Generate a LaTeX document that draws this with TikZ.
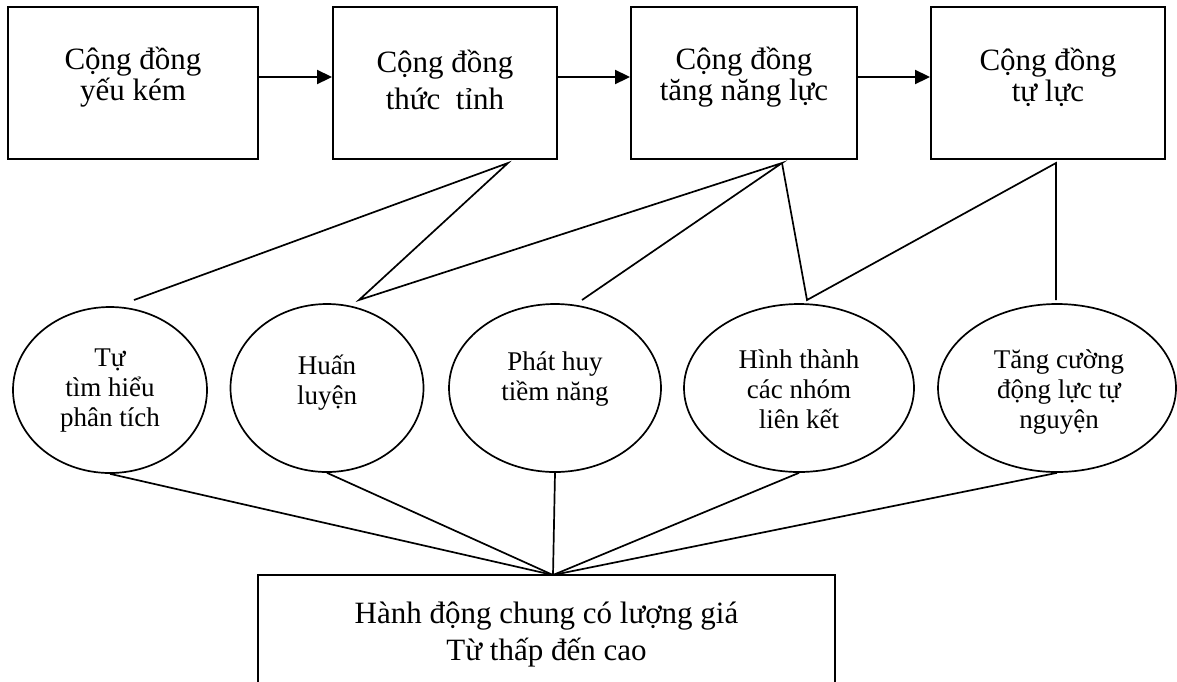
\documentclass[tikz,border=0pt]{standalone}
\usepackage{fontspec}
\setmainfont{Liberation Serif}
\usetikzlibrary{shapes.geometric,arrows.meta}

\tikzset{
  stage/.style={draw, line width=1.9pt, minimum height=152, inner sep=0},
  stagetxt/.style={align=center, inner sep=0, font=\fontsize{31}{31}\selectfont},
  bubble/.style={draw, ellipse, line width=1.7pt, minimum height=168, inner sep=0},
  bubbletxt/.style={align=center, inner sep=0, font=\fontsize{27}{30}\selectfont},
  flow/.style={line width=1.9pt, -{Triangle[length=15pt,width=14pt]}},
  link/.style={line width=1.7pt},
}

\begin{document}
\begin{tikzpicture}[x=1pt, y=-1pt]
	\useasboundingbox (0,0) rectangle (1177,681);
	% the four stages
	\node[stage, minimum width=250] (s1) at (133,83) {};
	\node[stage, minimum width=224] (s2) at (445,83) {};
	\node[stage, minimum width=226] (s3) at (744,83) {};
	\node[stage, minimum width=234] (s4) at (1048,83) {};
	\node[stagetxt] (t1) at (133,77) {Cộng đồng\\yếu kém};
	\node[stagetxt] (t2) at (445,80) {Cộng đồng\\[6pt]thức~ tỉnh};
	\node[stagetxt] (t3) at (744,77) {Cộng đồng\\tăng năng lực};
	\node[stagetxt] (t4) at (1048,77) {Cộng đồng\\tự lực};
	\draw[flow] ([yshift=6]s1.east) -- ([yshift=6]s2.west);
	\draw[flow] ([yshift=6]s2.east) -- ([yshift=6]s3.west);
	\draw[flow] ([yshift=6]s3.east) -- ([yshift=6]s4.west);
	% the five means
	\node[bubble, minimum width=194, minimum height=166] (e1) at (110,390) {};
	\node[bubble, minimum width=193] (e2) at (327,388) {};
	\node[bubble, minimum width=212] (e3) at (555,388) {};
	\node[bubble, minimum width=230] (e4) at (799,388) {};
	\node[bubble, minimum width=238] (e5) at (1057,388) {};
	\node[bubbletxt] (b1) at (110,391) {Tự\\tìm hiểu\\phân tích};
	\node[bubbletxt] (b2) at (327,383) {Huấn\\luyện};
	\node[bubbletxt] (b3) at (555,379) {Phát huy\\tiềm năng};
	\node[bubbletxt] (b4) at (799,389) {Hình thành\\các nhóm\\liên kết};
	\node[bubbletxt] (b5) at (1059,392) {Tăng cường\\động lực tự\\nguyện};
	% zigzag between stages and means
	\coordinate (a2) at (508,163);
	\coordinate (a3) at (782,163);
	\coordinate (a4) at (1056,163);
	\coordinate (p1) at (134,300);
	\coordinate (p2) at (359,300);
	\coordinate (p3) at (582,300);
	\coordinate (p4) at (807,300);
	\coordinate (p5) at (1056,300);
	\draw[link] (p1) -- (a2) -- (p2) -- (a3) -- (p3);
	\draw[link] (a3) -- (p4) -- (a4) -- (p5);
	% common action
	\node[inner sep=0, minimum width=577, minimum height=120, align=center,
	      font=\fontsize{31}{37}\selectfont] (act) at (546.5,635)
	      {Hành động chung có lượng giá\\Từ thấp đến cao};
	\draw[line width=1.9pt] (act.south west) -- (act.north west) -- (act.north east) -- (act.south east);
	\coordinate (hub) at (553,575);
	\foreach \e in {e1,e2,e3,e4,e5}
		\draw[link] (\e.south) -- (hub);
\end{tikzpicture}
\end{document}
